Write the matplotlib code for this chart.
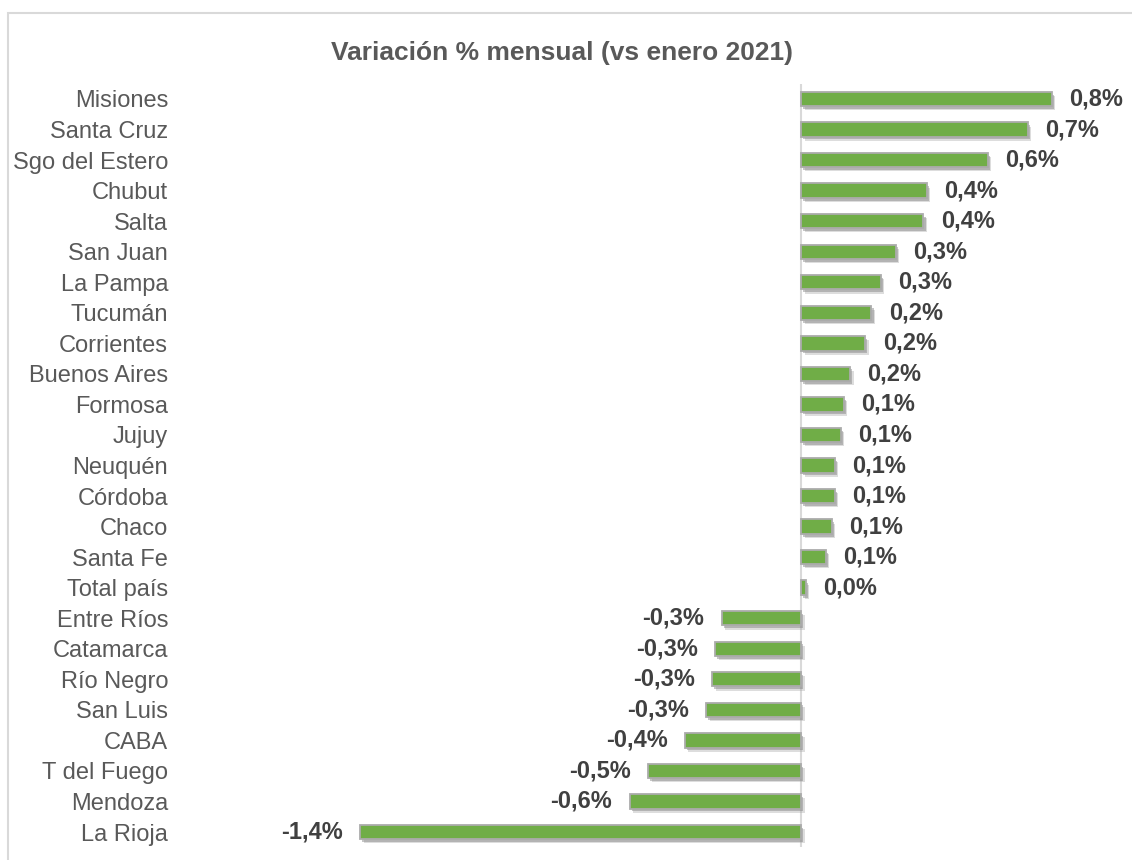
import matplotlib.pyplot as plt
import matplotlib.patheffects as pe
from matplotlib.patches import Rectangle

plt.rcParams['font.family'] = ['Liberation Sans', 'DejaVu Sans']

# provincias, de arriba hacia abajo
provincias = ['Misiones', 'Santa Cruz', 'Sgo del Estero', 'Chubut', 'Salta',
              'San Juan', 'La Pampa', 'Tucumán', 'Corrientes', 'Buenos Aires',
              'Formosa', 'Jujuy', 'Neuquén', 'Córdoba', 'Chaco', 'Santa Fe',
              'Total país', 'Entre Ríos', 'Catamarca', 'Río Negro', 'San Luis',
              'CABA', 'T del Fuego', 'Mendoza', 'La Rioja']
# variación % mensual (valores estimados del gráfico)
variacion = [0.82, 0.74, 0.61, 0.41, 0.40,
             0.31, 0.26, 0.23, 0.21, 0.16,
             0.14, 0.13, 0.11, 0.11, 0.10, 0.08,
             0.015, -0.26, -0.28, -0.29, -0.31,
             -0.38, -0.50, -0.56, -1.44]

verde = '#70AD47'

fig = plt.figure(figsize=(11.32, 8.6), dpi=100)
ax = fig.add_axes([0.1670, 0.01477, 0.8245, 0.8879])

# marco del gráfico
fig.patches.append(Rectangle((8 / 1132, -0.05), 1.2, 1.05 - 13 / 860,
                             transform=fig.transFigure, fill=False,
                             edgecolor='#D9D9D9', linewidth=1.5))

ypos = list(range(len(provincias)))
bars = ax.barh(ypos, variacion, height=0.47, color=verde,
               edgecolor='#ABABAB', linewidth=1.3, zorder=3)
for b in bars:
    b.set_path_effects([pe.SimplePatchShadow(offset=(2.5, -3), shadow_rgbFace='#A0A0A0', alpha=0.35),
                        pe.SimplePatchShadow(offset=(1.5, -2), shadow_rgbFace='#808080', alpha=0.45),
                        pe.Normal()])

ax.axvline(0, color='#D9D9D9', linewidth=1.5, zorder=1)

for y, v in zip(ypos, variacion):
    txt = f'{v:.1f}'.replace('.', ',') + '%'
    if v >= 0:
        ax.annotate(txt, (v, y), xytext=(12.5, 0), textcoords='offset points',
                    ha='left', va='center', fontsize=17, fontweight='bold', color='#404040')
    else:
        ax.annotate(txt, (v, y), xytext=(-12.5, 0), textcoords='offset points',
                    ha='right', va='center', fontsize=17, fontweight='bold', color='#404040')

ax.set_xlim(-2.0, 1.05)
ax.set_ylim(24.5, -0.5)
ax.set_yticks(ypos)
ax.set_yticklabels(provincias, fontsize=17, color='#595959')
ax.tick_params(axis='y', length=0, pad=15)
ax.set_xticks([])
for s in ax.spines.values():
    s.set_visible(False)

fig.text(562 / 1132, 1 - 53 / 860, 'Variación % mensual (vs enero 2021)',
         ha='center', va='center', fontsize=19, fontweight='bold', color='#595959')

fig.savefig('out.png', dpi=100)
